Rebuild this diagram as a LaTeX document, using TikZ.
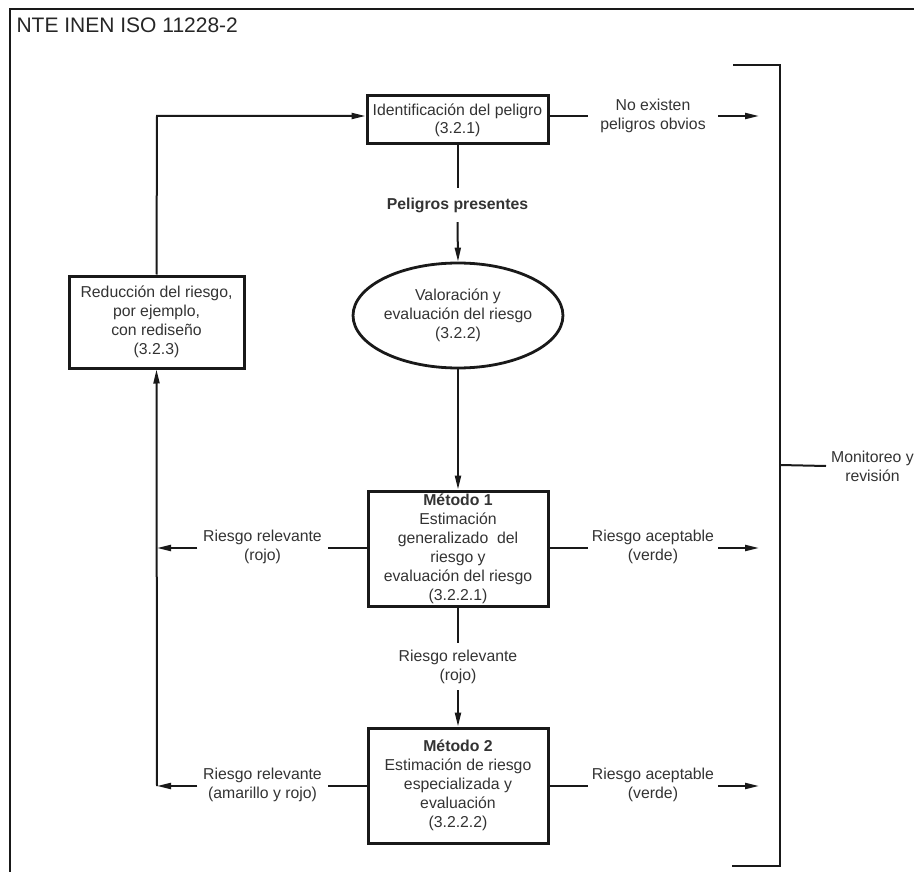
\documentclass[tikz,border=0pt]{standalone}
\usepackage{fontspec}
\setmainfont{Liberation Sans}
\usetikzlibrary{arrows.meta,shapes.geometric}
\begin{document}
\begin{tikzpicture}[x=1pt,y=-1pt,
  ink/.style={draw=black!90},
  txt/.style={text=black!80,font=\fontsize{15.8}{19}\selectfont,align=center},
  stepbox/.style={ink,line width=3pt,txt,rectangle,inner sep=0pt},
  lbl/.style={txt,inner xsep=0pt,inner ysep=0pt,minimum width=130pt},
  conn/.style={ink,line width=2pt},
  tip/.style={conn,-{Triangle[length=14pt,width=6pt]}}]
\useasboundingbox (0,0) rectangle (914,872);
% frame
\draw[ink,line width=2.6pt] (10,872) -- (10,9) -- (914,9);
\node[anchor=west,text=black!85,font=\fontsize{21}{24}\selectfont] (title) at (13,25) {NTE INEN ISO 11228-2};

% main steps
\node[stepbox,minimum width=181pt,minimum height=48pt] (ident) at (457.5,120)
  {Identificación del peligro\\[-1pt](3.2.1)};
\node[txt,font=\fontsize{15.8}{19}\selectfont\bfseries,minimum height=34pt,inner sep=0pt] (pp) at (457.5,205) {Peligros presentes};
\node[ellipse,ink,line width=2.8pt,txt,minimum width=177pt,minimum height=105pt,inner sep=0pt] (val) at (458,315.5)
  {Valoración y\\evaluación del riesgo\\(3.2.2)};
\node[stepbox,minimum width=175pt,minimum height=92pt] (red) at (156.5,322)
  {Reducción del riesgo,\\por ejemplo,\\con rediseño\\(3.2.3)};
\node[stepbox,minimum width=180pt,minimum height=115pt] (m1) at (458,548.5)
  {\textbf{Método 1}\\Estimación\\generalizado\ \ del\\riesgo y\\evaluación del riesgo\\(3.2.2.1)};
\node[txt,minimum height=47pt,inner sep=0pt] (rr) at (458,666.5) {Riesgo relevante\\(rojo)};
\node[stepbox,minimum width=180pt,minimum height=115pt] (m2) at (458,785.5)
  {\textbf{Método 2}\\Estimación de riesgo\\especializada y\\evaluación\\(3.2.2.2)};

% side labels
\node[lbl] (ne) at (653,115.5) {No existen\\peligros obvios};
\node[lbl] (rl1) at (262.5,547) {Riesgo relevante\\(rojo)};
\node[lbl] (ra1) at (653,547) {Riesgo aceptable\\(verde)};
\node[lbl] (rl2) at (262.5,785) {Riesgo relevante\\(amarillo y rojo)};
\node[lbl] (ra2) at (653,785) {Riesgo aceptable\\(verde)};
\node[txt,anchor=west,inner sep=0pt] (mon) at (831,466) {Monitoreo y\\revisión};

% free ends and bracket corners
\coordinate (bt) at (733,65);
\coordinate (bb) at (732,866);
\coordinate (bm) at (780,465);
\coordinate (e1) at (759,116);
\coordinate (e2) at (759,548);
\coordinate (e3) at (759,786);
\coordinate (w1) at (157,548);
\coordinate (w2) at (157,786);
\coordinate (up) at (157,116);

% bracket
\draw[conn] (bt) -- (780,65) -- (780,866) -- (bb);
\draw[conn] (bm) -- (mon.west -| 826,0);

% flow
\draw[conn] (ident.south) -- (pp.north);
\draw[tip] (pp.south) -- (val.north);
\draw[tip] (val.south) -- (m1.north);
\draw[conn] (m1.south) -- (rr.north);
\draw[tip] (rr.south) -- (m2.north);

\draw[conn] (ident.east |- 0,116) -- (ne.west |- 0,116);
\draw[tip] (ne.east |- 0,116) -- (e1);
\draw[conn] (m1.east |- 0,548) -- (ra1.west |- 0,548);
\draw[tip] (ra1.east |- 0,548) -- (e2);
\draw[conn] (m2.east |- 0,786) -- (ra2.west |- 0,786);
\draw[tip] (ra2.east |- 0,786) -- (e3);

\draw[conn] (m1.west |- 0,548) -- (rl1.east |- 0,548);
\draw[tip] (rl1.west |- 0,548) -- (w1);
\draw[conn] (m2.west |- 0,786) -- (rl2.east |- 0,786);
\draw[tip] (rl2.west |- 0,786) -- (w2);

\draw[tip] (w2) -- (red.south);
\draw[tip] (red.north) -- (up) -- (ident.west |- up);
\end{tikzpicture}
\end{document}
